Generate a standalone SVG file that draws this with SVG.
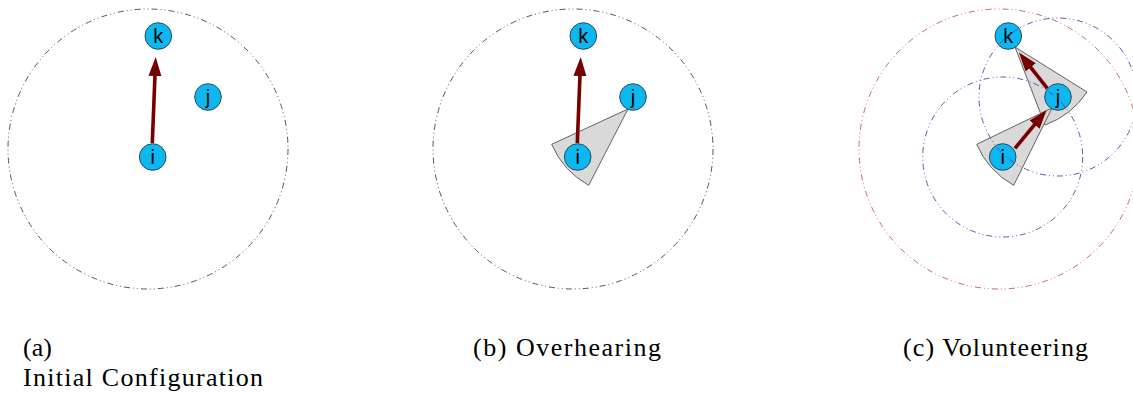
<svg xmlns="http://www.w3.org/2000/svg" width="1133" height="394" viewBox="0 0 1133 394">
<style>
.range{fill:none;stroke:#40405a;stroke-width:0.9;stroke-dasharray:6 3 1 3 1 3}
.red{stroke:#c05a5a}
.blue{stroke:#4a4aa8}
.wedge{fill:#d9d9d9;stroke:#555;stroke-width:0.9}
.node circle{fill:#0db7f0;stroke:#2b4b5c;stroke-width:1}
.node text{font-family:"Liberation Sans",Arial,sans-serif;font-size:20px;fill:#000;text-anchor:middle}
.arrow{stroke:#760000;stroke-width:3.6;fill:none;marker-end:url(#head)}
.cap{font-family:"Liberation Serif","Times New Roman",serif;font-size:26px;fill:#000}
</style>
<defs>
<marker id="head" markerUnits="userSpaceOnUse" markerWidth="20" markerHeight="14" refX="1" refY="6.5" orient="auto">
<path d="M0,0 L19,6.5 L0,13 Z" fill="#760000"/>
</marker>
</defs>

<g id="panel-a">
<circle id="range-a" class="range" cx="148" cy="149" r="140"/>
</g>
<g id="panel-b">
<circle id="range-b" class="range" cx="573" cy="149" r="140"/>
<path id="wedge-b" class="wedge" d="M628,109 L551.7,144.3 A85,85 0 0 0 588.7,185.3 Z"/>
</g>
<g id="panel-c-wedges">
<path id="wedge-c2" class="wedge" d="M1015,47 L1045,125 A85,85 0 0 0 1087,92 Z"/>
<path id="wedge-c1" class="wedge" d="M1052,108 L976.7,144.3 A85,85 0 0 0 1013.7,185.3 Z"/>
</g>

<g id="connectors">
<line class="arrow" x1="152.3" y1="143" x2="155" y2="75"/>
<line class="arrow" x1="577.3" y1="143" x2="580" y2="75"/>
<line class="arrow" x1="1015" y1="148.3" x2="1035.2" y2="123.9"/>
<line class="arrow" x1="1047.3" y1="88.3" x2="1030.1" y2="66.6"/>
</g>

<g id="node-a-k" class="node"><circle cx="158.3" cy="36" r="13.3"/><text x="158.3" y="43">k</text></g>
<g id="node-a-j" class="node"><circle cx="208" cy="97" r="13.3"/><text x="208" y="104">j</text></g>
<g id="node-a-i" class="node"><circle cx="152.7" cy="157" r="13.3"/><text x="152.7" y="164">i</text></g>

<g id="node-b-k" class="node"><circle cx="583.3" cy="36" r="13.3"/><text x="583.3" y="43">k</text></g>
<g id="node-b-j" class="node"><circle cx="633" cy="97" r="13.3"/><text x="633" y="104">j</text></g>
<g id="node-b-i" class="node"><circle cx="577.7" cy="157" r="13.3"/><text x="577.7" y="164">i</text></g>

<g id="node-c-k" class="node"><circle cx="1008.3" cy="36" r="13.3"/><text x="1008.3" y="43">k</text></g>
<g id="node-c-j" class="node"><circle cx="1058" cy="97" r="13.3"/><text x="1058" y="104">j</text></g>
<g id="node-c-i" class="node"><circle cx="1002.7" cy="157" r="13.3"/><text x="1002.7" y="164">i</text></g>

<g id="panel-c-ranges">
<circle id="range-c" class="range red" cx="999" cy="149" r="140"/>
<circle id="range-c-i" class="range blue" cx="1002.7" cy="157" r="80"/>
<circle id="range-c-j" class="range blue" cx="1058" cy="97" r="79"/>
</g>

<g id="captions">
<text class="cap" x="23" y="356">(a)</text>
<text class="cap" x="23" y="386" textLength="240" lengthAdjust="spacing">Initial Configuration</text>
<text class="cap" x="473" y="356" textLength="188" lengthAdjust="spacing">(b) Overhearing</text>
<text class="cap" x="903" y="356" textLength="185" lengthAdjust="spacing">(c) Volunteering</text>
</g>
</svg>
